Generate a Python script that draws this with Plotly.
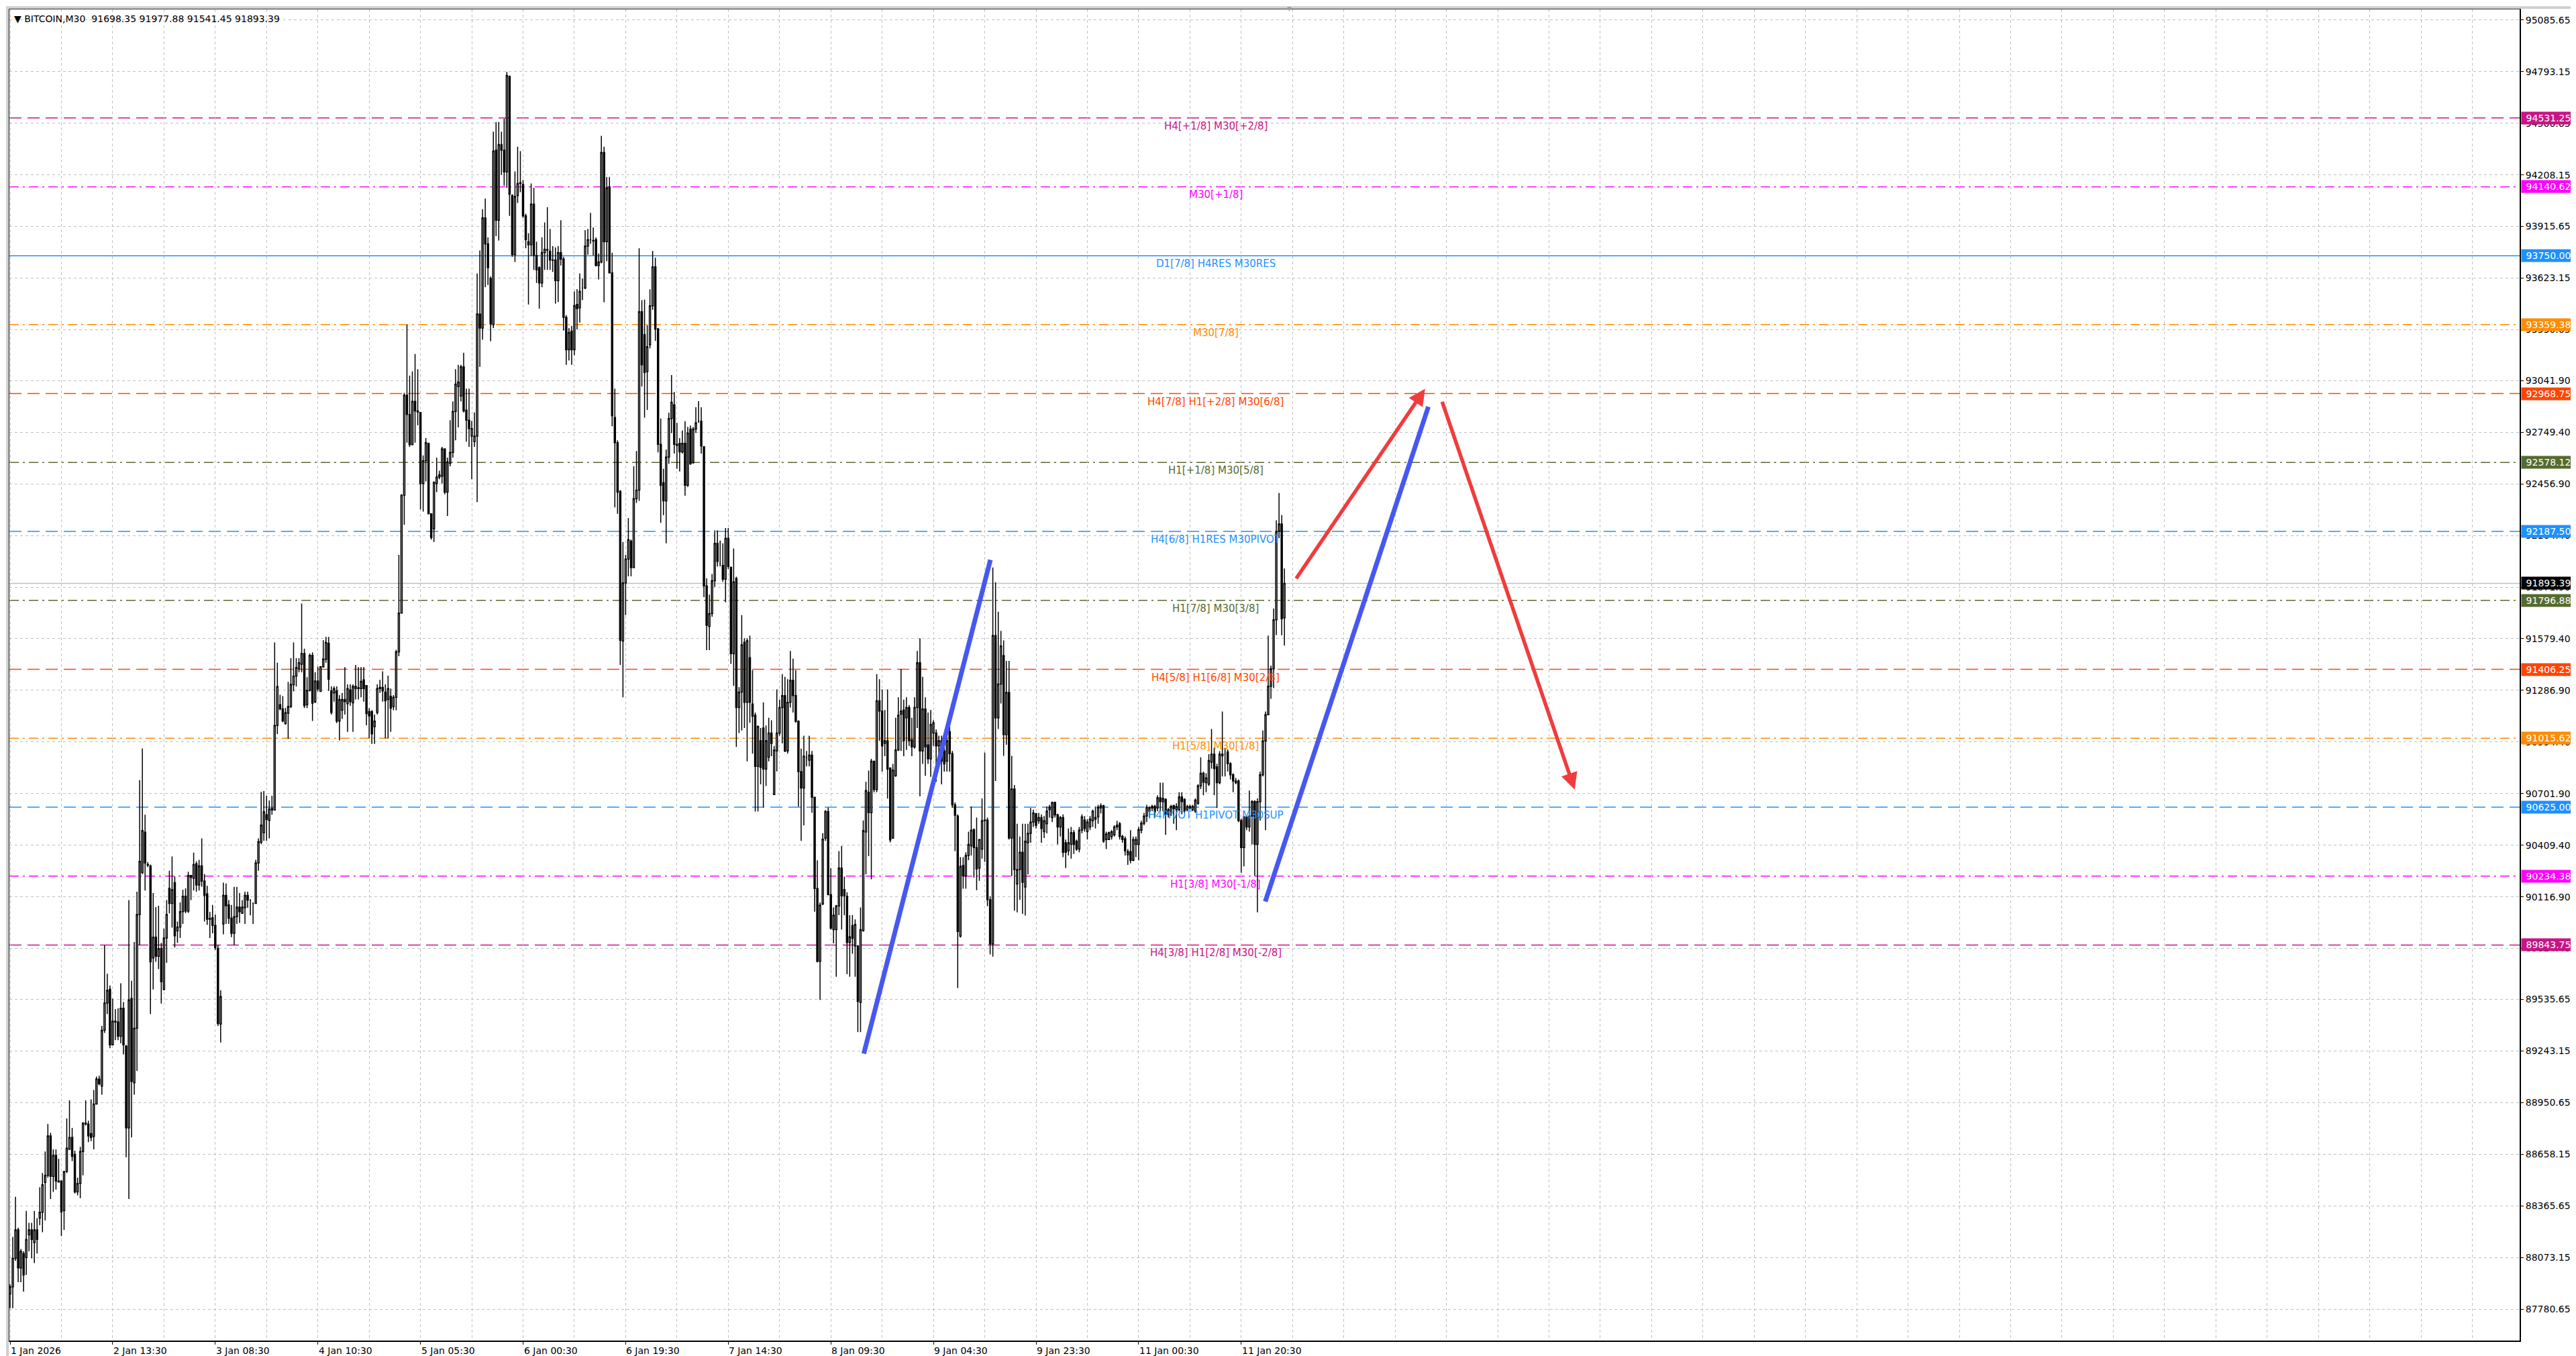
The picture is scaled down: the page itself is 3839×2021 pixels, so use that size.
import plotly.graph_objects as go

# =============================================================================
# Data: BITCOIN M30 bars (bar index 0 = left edge of the visible chart)
# =============================================================================
bar_open = [
    87866, 87906, 88068, 88229, 88014, 88095, 88073, 88202, 88229, 88157, 88229, 88296,
    88329, 88498, 88538, 88762, 88533, 88651, 88506, 88506, 88339, 88560, 88686, 88753,
    88657, 88444, 88493, 88673, 88834, 88829, 88775, 88759, 88942, 89084, 89044, 89361,
    89515, 89593, 89278, 89412, 89407, 89326, 89485, 89270, 88807, 89541, 89063, 89372,
    90017, 90254, 90483, 90300, 90292, 89770, 89888, 89780, 89824, 89592, 89883, 90165,
    90079, 90197, 89923, 89945, 90033, 90120, 90036, 90238, 90222, 90305, 90184, 90292,
    90206, 90133, 89990, 89998, 89955, 89824, 89396, 89963, 90125, 90071, 89996, 89910,
    90004, 90058, 90023, 90055, 90125, 90098,
    90079, 90079, 90308, 90426, 90480, 90582, 90550, 90609, 90609, 91088,
    91206, 91182, 91098, 91157, 91195, 91319, 91367, 91408, 91435, 91496, 91206, 91287,
    91485, 91222, 91340, 91281, 91421, 91462, 91554, 91284, 91272, 91284, 91113, 91174,
    91235, 91211, 91289, 91216, 91297, 91297, 91297, 91346, 91314, 91167, 91167, 91081,
    91162, 91297, 91304, 91277, 91235, 91253, 91194, 91248, 91505, 91725, 92393, 92960,
    92850, 92679, 92924, 92870, 92862, 92459, 92588, 92686, 92288, 92202, 92459, 92496,
    92500, 92655, 92410, 92574, 92635, 92867, 93009, 92955, 93120, 92875, 92818, 92728,
    92696, 92728, 93420, 93340, 93964, 93817, 93621, 93359, 94348, 93951, 94380, 94348,
    94225, 94766, 94091, 93756, 94091, 94159, 94154, 93976,
    93829, 93812, 94042, 93751, 93682, 93596, 93768, 93785, 93775, 93726, 93726, 93609,
    93768, 93731, 93401, 93217, 93323, 93217, 93474, 93455, 93567, 93567, 93805, 93841,
    93836, 93841, 93694, 93714, 94335, 93829, 94140, 93653, 92833, 92691, 92415, 91566,
    91896, 92031, 92133, 91982, 92373, 92422, 93433, 93303, 93094, 93245, 93466, 93687,
    93335, 92681, 92463, 92361, 92609, 92827, 92905, 92681, 92687, 92638, 92687, 92449,
    92768, 92577, 92768, 92812, 92812, 92667, 91879, 91649, 91722, 91908, 92120, 92004,
    91995, 91917, 92149, 91983, 91495, 91922, 91190, 91277, 91559, 91219, 91472, 91210,
    91146, 90856, 91001, 91074, 90841, 90908, 91045, 90696, 90943, 91045, 91190, 91257,
    90943, 91219, 91344, 91257, 91112,
    90826, 90733, 90905, 90891, 90920, 90681, 90164, 89751, 90076, 90449, 90600, 90129,
    89931, 89931, 90065, 90280, 90158, 90120, 89858, 89954, 89838, 89838, 89518, 89925,
    90484, 90710, 90594, 90885, 90725, 91228, 91170, 90986, 91001, 90847, 90449, 90803,
    90949, 91152, 91175, 91132, 91190, 91007, 90966, 91190, 91443, 90943, 91181, 90978,
    90899, 91045, 91045, 90972, 91001, 90943, 90885, 91053, 90928, 90638, 90575, 89894,
    90294, 90235, 90351, 90405, 90498, 90396, 90280, 90387, 90548, 90552, 90100, 89850,
    91597, 91131, 91323, 91484, 91036, 91275, 90450, 90728, 90190, 90271, 90369, 90172,
    90423, 90477, 90540, 90588, 90548, 90566, 90486, 90531, 90611, 90566, 90652, 90581,
    90513, 90566, 90423, 90378, 90414, 90480, 90432, 90387, 90495, 90552, 90486, 90513,
    90548, 90557, 90570, 90620, 90633, 90441, 90441, 90459, 90468, 90513, 90531, 90459,
    90445, 90355, 90373, 90324, 90414, 90414, 90495, 90534, 90575, 90602, 90620, 90629,
    90620, 90678, 90656, 90670, 90584, 90602, 90634, 90611, 90611, 90683, 90670, 90611,
    90620, 90611, 90602, 90647, 90746, 90817, 90764, 90755, 90880, 90925, 90853, 90764,
    90916, 90925, 90938, 90871, 90808, 90764, 90773, 90549, 90396, 90570, 90513, 90575,
    90656, 90414, 90656, 90808, 91000, 91149, 91310, 91409, 91687, 92188, 92230, 91698.35,
]

bar_high = [
    87920, 88189, 88417, 88242, 88121, 88108, 88337, 88269, 88269, 88337, 88296, 88471,
    88552, 88673, 88829, 88780, 88686, 88686, 88632, 88511, 88560, 88861, 88963, 88807,
    88678, 88525, 88700, 88840, 88963, 88848, 88969, 89022, 89098, 89103, 89385, 89843,
    89681, 89614, 89539, 89480, 89485, 89627, 89520, 89278, 90098, 89641, 89861, 90146,
    90778, 90958, 90582, 90313, 90300, 90138, 90058, 90066, 89856, 89937, 90098, 90265,
    90345, 90232, 89977, 90085, 90157, 90165, 90259, 90240, 90367, 90318, 90326, 90448,
    90246, 90179, 90031, 90071, 90017, 89843, 89587, 90197, 90192, 90098, 90071, 90173,
    90173, 90138, 90098, 90146, 90146, 90103,
    90085, 90326, 90448, 90711, 90716, 90690, 90663, 90690, 91558, 91443,
    91262, 91254, 91187, 91335, 91469, 91558, 91469, 91469, 91779, 91523, 91362, 91496,
    91502, 91389, 91421, 91424, 91571, 91590, 91590, 91309, 91309, 91309, 91260, 91272,
    91419, 91321, 91321, 91321, 91431, 91419, 91419, 91419, 91314, 91186, 91174, 91150,
    91321, 91346, 91395, 91321, 91370, 91297, 91260, 91517, 92055, 92398, 92973, 93359,
    93071, 93095, 93193, 93107, 92862, 92618, 92716, 92691, 92288, 92471, 92606, 92532,
    92667, 92655, 92606, 92818, 92924, 93107, 93132, 93132, 93200, 92997, 92997, 92814,
    92862, 93650, 93780, 94013, 94074, 93854, 93633, 94453, 94507, 94507, 94453, 94526,
    94791, 94771, 94098, 94228, 94367, 94343, 94179, 93988,
    93878, 94159, 94135, 93829, 93690, 93854, 93939, 94025, 93902, 93805, 93797, 93805,
    93951, 93744, 93413, 93340, 93352, 93548, 93560, 93650, 93621, 93895, 93902, 93993,
    93910, 93854, 93763, 94429, 94367, 94196, 94196, 93768, 92997, 92704, 92422, 92128,
    92055, 92263, 92141, 92557, 92643, 93792, 93499, 93501, 93356, 93559, 93777, 93739,
    93341, 92827, 92542, 92652, 92861, 93074, 92978, 92803, 92716, 92760, 92812, 92780,
    92788, 92780, 92891, 92925, 92891, 92672, 91922, 91829, 91946, 92193, 92193, 92135,
    92120, 92207, 92207, 91989, 92091, 91931, 91306, 91713, 91582, 91582, 91597, 91402,
    91161, 91088, 91074, 91219, 91088, 91132, 91117, 90972, 91292, 91234, 91379, 91364,
    91350, 91510, 91466, 91402, 91117,
    90957, 91030, 90943, 91030, 90943, 90681, 90324, 90085, 90478, 90609, 90623, 90280,
    90056, 90071, 90376, 90405, 90231, 90143, 90013, 90013, 89989, 89844, 90056, 90550,
    90768, 90832, 90899, 90885, 91379, 91350, 91292, 91175, 91292, 90847, 90870, 91132,
    91248, 91408, 91234, 91248, 91204, 91132, 91248, 91510, 91582, 91364, 91248, 91161,
    91175, 91117, 91065, 91030, 91030, 91001, 91030, 91088, 90943, 90652, 90584, 90342,
    90342, 90369, 90486, 90629, 90504, 90566, 90441, 90674, 90934, 90566, 90120, 91983,
    91900, 91732, 91624, 91570, 91454, 91454, 90916, 90750, 90531, 90459, 90531, 90531,
    90531, 90620, 90611, 90593, 90593, 90584, 90575, 90629, 90638, 90656, 90656, 90588,
    90575, 90584, 90441, 90504, 90513, 90495, 90441, 90513, 90584, 90575, 90557, 90575,
    90611, 90629, 90638, 90647, 90638, 90486, 90486, 90495, 90522, 90548, 90540, 90468,
    90459, 90387, 90495, 90459, 90459, 90513, 90548, 90593, 90638, 90629, 90638, 90638,
    90692, 90764, 90764, 90674, 90620, 90638, 90638, 90647, 90710, 90710, 90674, 90638,
    90638, 90638, 90674, 90755, 90907, 90826, 90817, 90925, 91068, 90961, 90871, 90942,
    91167, 90961, 90952, 90880, 90817, 90790, 90782, 90560, 90575, 90575, 90719, 90665,
    90665, 90674, 90826, 91059, 91167, 91597, 91427, 91750, 92250, 92405, 92281, 91977.88,
]

bar_low = [
    87785, 87785, 88054, 87933, 87933, 87880, 87974, 88108, 88068, 88041, 88095, 88256,
    88216, 88283, 88525, 88404, 88444, 88458, 88498, 88194, 88229, 88552, 88686, 88619,
    88436, 88425, 88409, 88538, 88821, 88727, 88732, 88686, 88942, 89049, 88996, 89345,
    89453, 89259, 89278, 89305, 89305, 89286, 89224, 88641, 88404, 88753, 88996, 89130,
    89843, 90246, 90152, 90286, 89453, 89592, 89748, 89708, 89512, 89587, 89743, 90023,
    89942, 89829, 89856, 89883, 89963, 90023, 90025, 90098, 90152, 90146, 90152, 90173,
    89977, 89958, 89883, 89910, 89816, 89385, 89291, 89904, 89963, 89963, 89888, 89843,
    89963, 89969, 90023, 89963, 90055, 90012,
    89963, 90076, 90265, 90415, 90434, 90434, 90448, 90582, 90609, 91039,
    91174, 91106, 91093, 91012, 91187, 91281, 91308, 91389, 91389, 91187, 91187, 91281,
    91114, 91214, 91281, 91281, 91416, 91443, 91284, 91150, 91223, 91101, 91003, 91125,
    91150, 91052, 91199, 91052, 91235, 91235, 91248, 91223, 91089, 91015, 90983, 90983,
    91150, 91272, 91223, 91015, 91015, 91052, 91174, 91174, 91480, 91725, 92226, 92691,
    92667, 92679, 92691, 92789, 92312, 92300, 92471, 92288, 92141, 92128, 92410, 92483,
    92459, 92398, 92275, 92557, 92606, 92704, 92777, 92924, 92862, 92696, 92667, 92483,
    92667, 92354, 93120, 93274, 93572, 93584, 93266, 93340, 93861, 93836, 94208, 94147,
    94135, 93976, 93744, 93714, 94049, 94110, 93964, 93792,
    93474, 93748, 93670, 93596, 93450, 93572, 93670, 93670, 93670, 93658, 93479, 93487,
    93694, 93327, 93132, 93156, 93132, 93186, 93332, 93371, 93499, 93560, 93756, 93817,
    93751, 93690, 93616, 93707, 93486, 93719, 93650, 92784, 92324, 92288, 91431, 91248,
    91713, 91933, 91933, 91982, 92349, 92361, 93009, 92832, 92876, 93225, 93443, 93268,
    92635, 92236, 92280, 92120, 92571, 92745, 92629, 92542, 92527, 92629, 92390, 92440,
    92565, 92571, 92745, 92803, 92629, 91815, 91515, 91515, 91704, 91873, 91989, 91989,
    91902, 91786, 91975, 91437, 91312, 90966, 91045, 91059, 91074, 90884, 91103, 90928,
    90600, 90600, 90754, 90623, 90745, 90884, 90914, 90696, 90827, 91030, 90986, 90937,
    90928, 91190, 91161, 91103, 90629,
    90434, 90521, 90856, 90856, 90594, 90033, 89745, 89533, 90070, 90434, 90129, 89931,
    89853, 89664, 90013, 89931, 90013, 89678, 89664, 89794, 89664, 89350, 89350, 89920,
    90245, 90347, 90216, 90710, 90710, 91001, 90826, 90914, 90673, 90425, 90449, 90797,
    90943, 90943, 90914, 90949, 90972, 90914, 90957, 91074, 90687, 90870, 90803, 90870,
    90797, 90972, 90768, 90856, 90754, 90826, 90826, 90826, 90623, 90376, 89600, 89885,
    90163, 90163, 90325, 90351, 90226, 90154, 90208, 90333, 90315, 90064, 89790, 89778,
    90773, 91068, 91212, 90916, 90979, 90441, 90235, 90038, 90029, 90100, 90020, 90011,
    90244, 90423, 90513, 90504, 90531, 90423, 90450, 90477, 90566, 90540, 90566, 90414,
    90459, 90342, 90280, 90351, 90333, 90360, 90378, 90369, 90477, 90486, 90441, 90495,
    90513, 90504, 90531, 90590, 90423, 90387, 90441, 90441, 90459, 90495, 90441, 90423,
    90351, 90298, 90306, 90319, 90342, 90324, 90477, 90522, 90540, 90566, 90602, 90566,
    90602, 90602, 90602, 90468, 90566, 90575, 90531, 90495, 90602, 90584, 90593, 90602,
    90611, 90602, 90593, 90638, 90728, 90692, 90710, 90746, 90844, 90692, 90620, 90755,
    90799, 90799, 90826, 90782, 90710, 90755, 90540, 90253, 90289, 90495, 90486, 90414,
    90235, 90029, 90549, 90799, 90495, 91149, 91239, 91300, 91600, 92150, 91599, 91541.45,
]

bar_close = [
    87906, 88068, 88229, 88014, 88108, 87974, 88175, 88229, 88175, 88229, 88175, 88329,
    88485, 88538, 88762, 88533, 88651, 88506, 88500, 88331, 88560, 88692, 88753, 88646,
    88444, 88493, 88673, 88834, 88829, 88762, 88753, 88942, 89084, 89057, 89361, 89515,
    89587, 89278, 89412, 89407, 89326, 89485, 89278, 88807, 89533, 89071, 89372, 90017,
    90318, 90493, 90308, 90297, 89748, 89888, 89780, 89824, 89635, 89883, 90017, 90079,
    90157, 89896, 89945, 90033, 90120, 90036, 90238, 90227, 90300, 90184, 90292, 90206,
    90125, 89990, 89995, 89955, 89829, 89399, 89552, 90125, 90066, 89996, 89910, 90004,
    90058, 90033, 90058, 90125, 90098, 90098,
    90079, 90308, 90429, 90523, 90598, 90555, 90614, 90617, 91088, 91308,
    91182, 91114, 91160, 91195, 91321, 91367, 91416, 91443, 91496, 91200, 91287, 91485,
    91214, 91340, 91295, 91421, 91464, 91558, 91350, 91162, 91297, 91113, 91235, 91235,
    91223, 91297, 91223, 91309, 91309, 91302, 91338, 91297, 91155, 91142, 91040, 91113,
    91297, 91304, 91284, 91228, 91297, 91186, 91248, 91505, 91725, 92393, 92960, 92850,
    92679, 92924, 92870, 92865, 92459, 92588, 92691, 92288, 92153, 92466, 92496, 92508,
    92655, 92410, 92581, 92635, 92867, 93022, 93034, 93120, 92870, 92818, 92770, 92770,
    92728, 93420, 93340, 93964, 93817, 93682, 93364, 94343, 93951, 94380, 94348, 94225,
    94771, 94098, 93756, 94086, 94159, 94164, 93976, 93841,
    93812, 94042, 93751, 93670, 93596, 93768, 93787, 93782, 93726, 93724, 93609, 93768,
    93731, 93401, 93217, 93315, 93217, 93467, 93450, 93548, 93567, 93805, 93841, 93841,
    93834, 93694, 93714, 94335, 93829, 94135, 93653, 92843, 92691, 92410, 91571, 91896,
    92031, 92141, 91982, 92373, 92422, 93433, 93132, 93088, 93234, 93466, 93687, 93335,
    92681, 92449, 92361, 92609, 92827, 92920, 92681, 92675, 92638, 92687, 92449, 92745,
    92571, 92768, 92803, 92812, 92672, 91879, 91655, 91722, 91908, 92120, 92018, 92004,
    91917, 92149, 91989, 91495, 91902, 91190, 91277, 91545, 91219, 91568, 91219, 91140,
    90856, 91082, 90850, 90841, 91001, 91045, 90986, 90949, 91045, 91190, 91257, 90943,
    91219, 91344, 91257, 91112, 90826,
    90733, 90914, 90905, 90920, 90681, 90164, 89751, 90070, 90443, 90600, 90129, 89940,
    90013, 90065, 90280, 90123, 90123, 89858, 89890, 89882, 89960, 89524, 89931, 90492,
    90719, 90594, 90885, 90725, 91228, 91170, 90972, 91001, 90841, 90440, 90835, 90949,
    91146, 91170, 91001, 91190, 91001, 90966, 91190, 91443, 90943, 91181, 90966, 90899,
    91094, 91103, 90972, 91001, 90885, 90870, 91001, 90928, 90638, 90579, 89921, 90289,
    90235, 90351, 90414, 90495, 90396, 90274, 90441, 90548, 90552, 90100, 89850, 91597,
    91131, 91323, 91538, 91036, 91275, 90450, 90728, 90271, 90271, 90369, 90199, 90432,
    90477, 90540, 90593, 90522, 90566, 90504, 90548, 90602, 90624, 90652, 90581, 90513,
    90566, 90369, 90369, 90423, 90480, 90414, 90387, 90495, 90570, 90504, 90540, 90557,
    90602, 90566, 90624, 90633, 90432, 90473, 90480, 90486, 90513, 90522, 90459, 90441,
    90378, 90373, 90324, 90441, 90441, 90498, 90534, 90575, 90624, 90624, 90629, 90599,
    90678, 90656, 90674, 90584, 90611, 90629, 90616, 90629, 90683, 90656, 90606, 90629,
    90629, 90629, 90665, 90746, 90817, 90767, 90790, 90889, 90925, 90844, 90764, 90925,
    90925, 90925, 90871, 90808, 90773, 90773, 90549, 90396, 90570, 90513, 90575, 90656,
    90414, 90656, 90808, 91000, 91149, 91310, 91409, 91687, 92188, 92230, 91692, 91893.39,
]

# time axis labels (every 38 bars)
date_ticks = [0, 38, 76, 114, 152, 190, 228, 266, 304, 342, 380, 418, 456]
date_labels = ["1 Jan 2026", "2 Jan 13:30", "3 Jan 08:30", "4 Jan 10:30", "5 Jan 05:30",
               "6 Jan 00:30", "6 Jan 19:30", "7 Jan 14:30", "8 Jan 09:30", "9 Jan 04:30",
               "9 Jan 23:30", "11 Jan 00:30", "11 Jan 20:30"]

# price scale values as printed by the terminal
price_ticks = [95085.65, 94793.15, 94500.65, 94208.15, 93915.65, 93623.15, 93330.65,
               93041.90, 92749.40, 92456.90, 92164.40, 91871.90, 91579.40, 91286.90,
               90994.40, 90701.90, 90409.40, 90116.90, 89824.40, 89535.65, 89243.15,
               88950.65, 88658.15, 88365.65, 88073.15, 87780.65]

# Murrey math levels
level_prices = [94531.25, 94140.62, 93750.00, 93359.38, 92968.75, 92578.12, 92187.50,
                91796.88, 91406.25, 91015.62, 90625.00, 90234.38, 89843.75]
level_names = ["H4[+1/8] M30[+2/8]", "M30[+1/8]", "D1[7/8] H4RES M30RES", "M30[7/8]",
               "H4[7/8] H1[+2/8] M30[6/8]", "H1[+1/8] M30[5/8]", "H4[6/8] H1RES M30PIVOT",
               "H1[7/8] M30[3/8]", "H4[5/8] H1[6/8] M30[2/8]", "H1[5/8] M30[1/8]",
               "H4PIVOT H1PIVOT M30SUP", "H1[3/8] M30[-1/8]", "H4[3/8] H1[2/8] M30[-2/8]"]
level_colors = ["#C71585", "#FF00FF", "#1E90FF", "#FF8C00", "#FF4500", "#556B2F", "#1E90FF",
                "#556B2F", "#FF4500", "#FF8C00", "#1E90FF", "#FF00FF", "#C71585"]
level_styles = ["dash", "dashdot", "solid", "dashdot", "dash", "dashdot", "dash",
                "dashdot", "dash", "dashdot", "dash", "dashdot", "dash"]

symbol = "BITCOIN,M30"
last_ohlc = [91698.35, 91977.88, 91541.45, 91893.39]

# hand-drawn projection (bar index, price)
blue_legs = [[(316.2, 89228), (363.1, 92027)],
             [(464.9, 90090), (525.3, 92894)]]
red_arrows = [[(476.1, 91915), (524.1, 92996)],
              [(530.3, 92928), (579.5, 90725)]]

# =============================================================================
# Figure
# =============================================================================
W, H = 3839, 2021
ML, MR, MT, MB = 4, 92, 4, 31
FONT = "DejaVu Sans"
GRID = "#c0c0c0"
dash_map = {"dash": "18px,9px", "dashdot": "14px,6px,3px,6px", "solid": "solid"}

fig = go.Figure()

fig.add_trace(go.Candlestick(
    x=list(range(len(bar_open))),
    open=bar_open, high=bar_high, low=bar_low, close=bar_close,
    increasing=dict(line=dict(color="black", width=1.5), fillcolor="white"),
    decreasing=dict(line=dict(color="black", width=1.5), fillcolor="black"),
    whiskerwidth=0, showlegend=False, hoverinfo="skip",
))

for leg in blue_legs:
    fig.add_trace(go.Scatter(
        x=[leg[0][0], leg[1][0]], y=[leg[0][1], leg[1][1]],
        mode="lines", line=dict(color="#4658F0", width=7),
        showlegend=False, hoverinfo="skip",
    ))

shapes = []
for p, c, s in zip(level_prices, level_colors, level_styles):
    shapes.append(dict(type="line", xref="paper", x0=0, x1=1, yref="y", y0=p, y1=p,
                       line=dict(color=c, width=1.5, dash=dash_map[s]), layer="below"))
shapes.append(dict(type="line", xref="paper", x0=0, x1=1, yref="y",
                   y0=last_ohlc[3], y1=last_ohlc[3],
                   line=dict(color="#c0c0c0", width=1.5), layer="below"))

# window frame around the whole picture
pw, ph = W - ML - MR, H - MT - MB
shapes.append(dict(type="rect", xref="paper", yref="paper",
                   x0=-ML / pw + 0.0003, x1=(W - ML) / pw - 0.0004,
                   y0=-MB / ph + 0.0006, y1=(H - MB) / ph - 0.0006,
                   line=dict(color="#cfcfcf", width=4), fillcolor="rgba(0,0,0,0)"))

annotations = []

# level captions in the chart
for p, c, name in zip(level_prices, level_colors, level_names):
    annotations.append(dict(x=446.6, y=p, xref="x", yref="y", text=name, showarrow=False,
                            xanchor="center", yanchor="top", yshift=-1,
                            font=dict(family=FONT, size=15, color=c)))

# price boxes on the right scale
for p, c in zip(level_prices, level_colors):
    annotations.append(dict(x=1, y=p, xref="paper", yref="y", text=f"{p:.2f}",
                            showarrow=False, xanchor="left", yanchor="middle", xshift=2,
                            bgcolor=c, borderpad=1, width=78,
                            font=dict(family=FONT, size=14, color="white")))
annotations.append(dict(x=1, y=last_ohlc[3], xref="paper", yref="y",
                        text=f"{last_ohlc[3]:.2f}", showarrow=False, xanchor="left",
                        yanchor="middle", xshift=2, bgcolor="black", borderpad=1, width=78,
                        font=dict(family=FONT, size=14, color="white")))

# time labels, left aligned at their tick
for t, lab in zip(date_ticks, date_labels):
    annotations.append(dict(x=t, y=0, xref="x", yref="paper", text=lab, showarrow=False,
                            xanchor="left", yanchor="top", yshift=-5, xshift=-1,
                            font=dict(family=FONT, size=14, color="black")))

# header
head = "\u25bc\u00a0" + symbol + "\u00a0\u00a0" + "\u00a0".join(f"{v:.2f}" for v in last_ohlc)
annotations.append(dict(x=0, y=1, xref="paper", yref="paper", text=head, showarrow=False,
                        xanchor="left", yanchor="top", xshift=5, yshift=-4,
                        font=dict(family=FONT, size=14, color="black")))

# chart shift marker
annotations.append(dict(x=473.7, y=1, xref="x", yref="paper", text="\u25bc", showarrow=False,
                        xanchor="center", yanchor="middle", yshift=1,
                        font=dict(family=FONT, size=9, color="#a0a0a0")))

# red projection arrows
for a in red_arrows:
    annotations.append(dict(x=a[1][0], y=a[1][1], ax=a[0][0], ay=a[0][1],
                            xref="x", yref="y", axref="x", ayref="y", text="",
                            showarrow=True, arrowhead=2, arrowsize=0.9, arrowwidth=5.5,
                            arrowcolor="#F03C3C", standoff=0, startstandoff=0))

fig.update_layout(
    width=W, height=H,
    margin=dict(l=ML, r=MR, t=MT, b=MB, pad=0),
    paper_bgcolor="white", plot_bgcolor="white",
    showlegend=False, hovermode=False,
    font=dict(family=FONT, size=14, color="black"),
    shapes=shapes, annotations=annotations,
    xaxis=dict(
        range=[-0.25, 929.5], tickmode="array", tickvals=date_ticks,
        showticklabels=False, ticks="outside", ticklen=4, tickcolor="black",
        showgrid=True, gridcolor=GRID, griddash="4px,4px", gridwidth=1,
        minor=dict(tickmode="linear", tick0=0, dtick=19, showgrid=True,
                   gridcolor=GRID, griddash="4px,4px", gridwidth=1, ticks=""),
        showline=True, linecolor="black", linewidth=2, mirror=True,
        zeroline=False, rangeslider=dict(visible=False), fixedrange=True,
    ),
    yaxis=dict(
        side="right", range=[87602, 95146],
        tickmode="array", tickvals=price_ticks,
        ticktext=[f"{v:.2f}" for v in price_ticks],
        ticks="outside", ticklen=4, tickcolor="black",
        tickfont=dict(family=FONT, size=14, color="black"),
        showgrid=True, gridcolor=GRID, griddash="4px,4px", gridwidth=1,
        showline=True, linecolor="black", linewidth=2, mirror=True,
        zeroline=False, fixedrange=True,
    ),
)

fig.write_html("out.html")
